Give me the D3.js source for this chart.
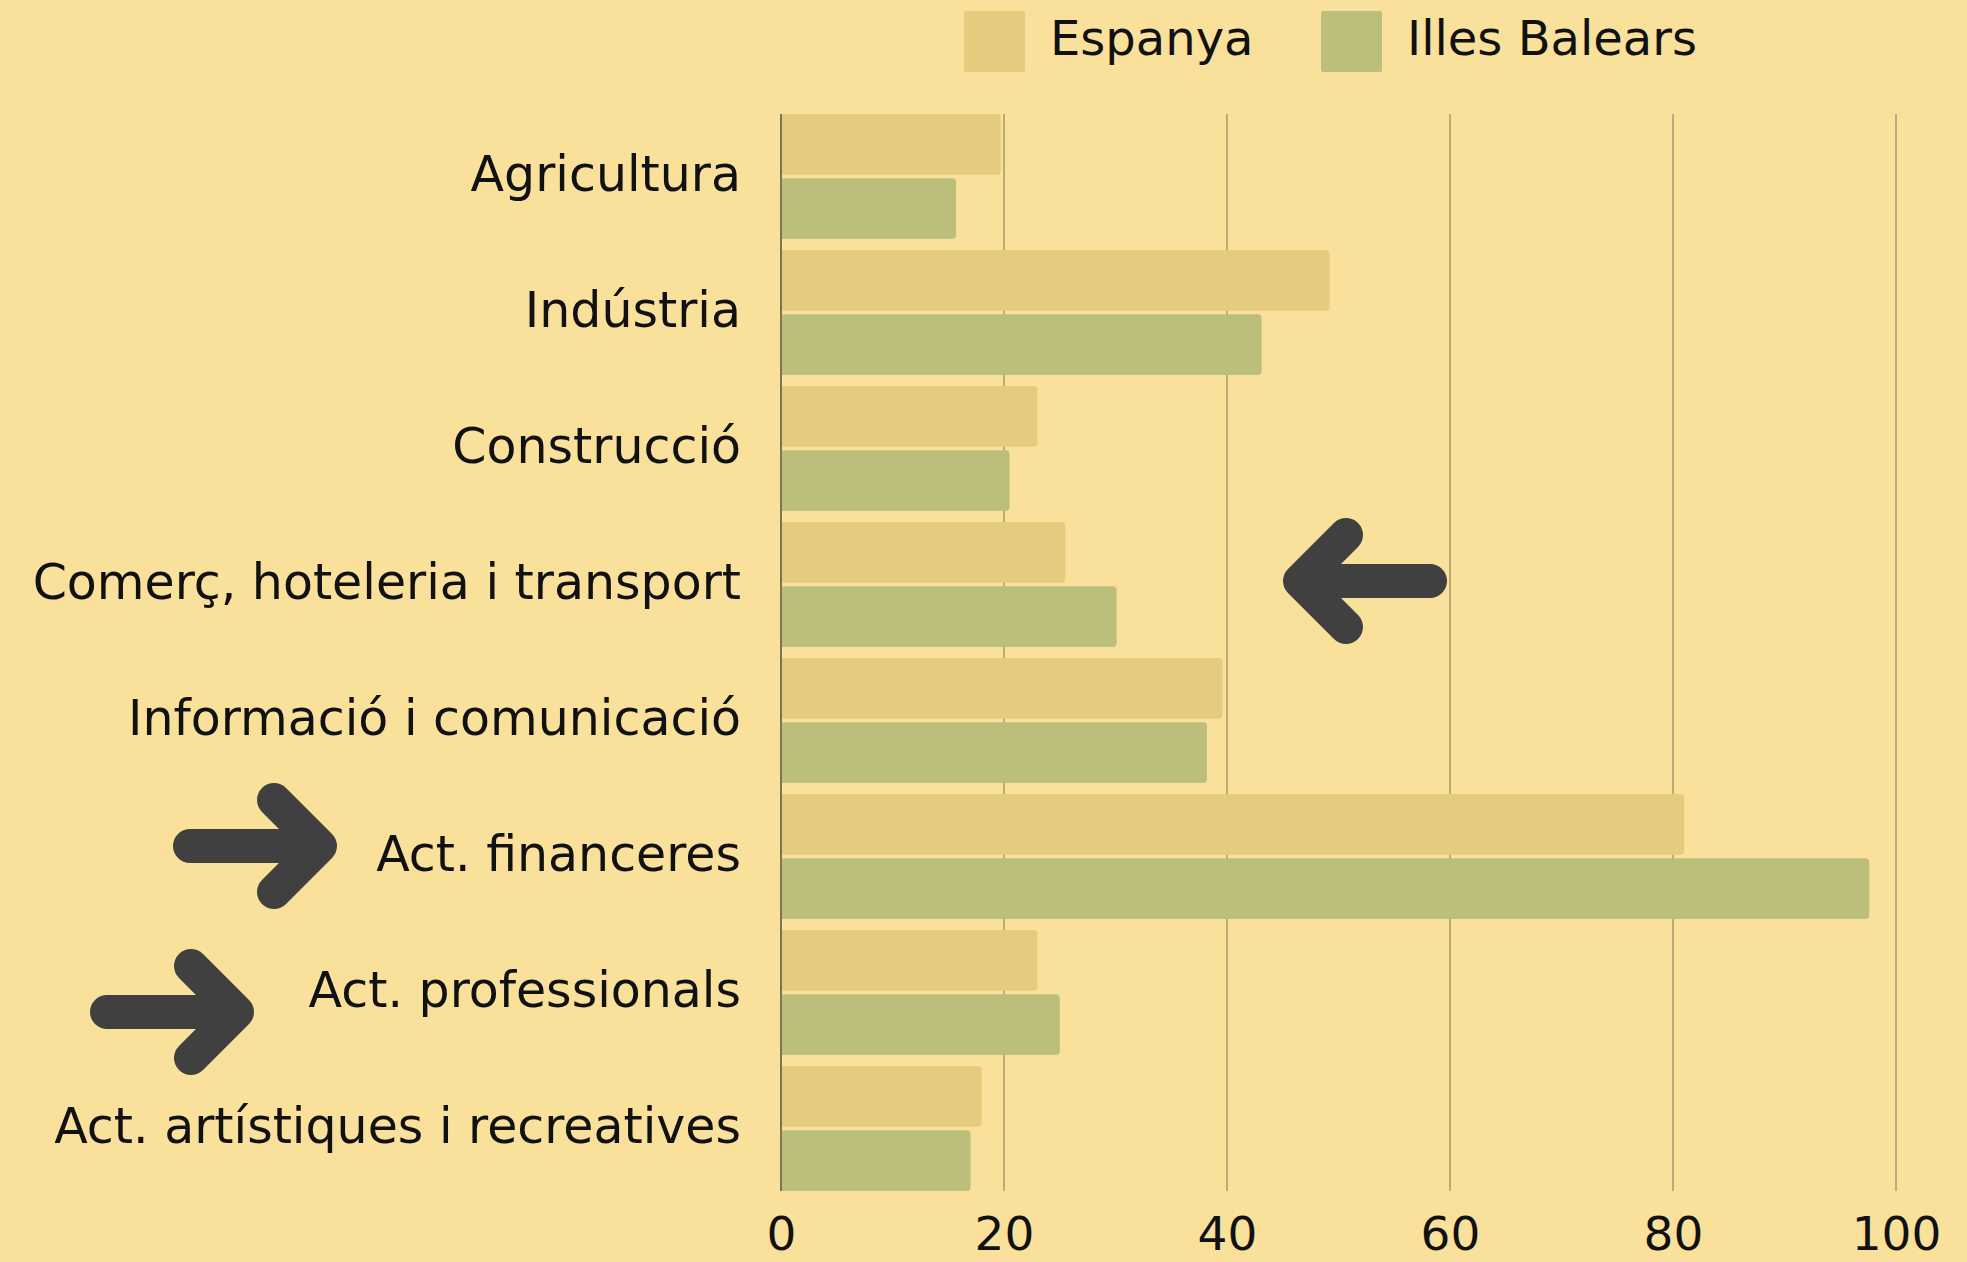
<!DOCTYPE html>
<html>
<head>
<meta charset="utf-8">
<script src="https://cdn.jsdelivr.net/npm/d3@7"></script>
<style>
body{margin:0;background:#f9e09b;}
svg{display:block;}
</style>
</head>
<body>
<script>
var categories=["Agricultura","Indústria","Construcció","Comerç, hoteleria i transport","Informació i comunicació","Act. financeres","Act. professionals","Act. artístiques i recreatives"];
var series=["Espanya","Illes Balears"];
var espanya=[19.7,49.2,23.0,25.5,39.6,81.0,23.0,18.0];
var balears=[15.7,43.1,20.5,30.1,38.2,97.6,25.0,17.0];
var xTicks=[0,20,40,60,80,100];

var width=1967;
var height=1262;
var colors={"Espanya":"#e4cb7e","Illes Balears":"#bcbe7b"};
var font="'DejaVu Sans', sans-serif";

var svg=d3.select("body")
    .append("svg")
    .attr("width",width)
    .attr("height",height);

svg.append("rect")
    .attr("width",width)
    .attr("height",height)
    .attr("fill","#f9e09b");

var plot={top:114, bottom:1191, left:781, right:1896};

var x=d3.scaleLinear().domain([0,100]).range([plot.left,plot.right]);
var y0=d3.scaleBand().domain(categories).range([plot.top,plot.bottom]).paddingInner(11/136).paddingOuter(0);
var y1=d3.scaleBand().domain(series).range([0,y0.bandwidth()]).paddingInner(0.056);

// gridlines
svg.append("g")
    .selectAll("line")
    .data(xTicks)
    .enter()
    .append("line")
    .attr("x1",function(d){return x(d);})
    .attr("x2",function(d){return x(d);})
    .attr("y1",plot.top)
    .attr("y2",plot.bottom)
    .attr("stroke",function(d){return d===0?"#7f7453":"#bcab7a";})
    .attr("stroke-width",2);

// barra amb cantonades dretes arrodonides
function barPath(x0,x1,yy,h,r){
    return "M"+x0+","+yy+
        "H"+(x1-r)+
        "Q"+x1+","+yy+" "+x1+","+(yy+r)+
        "V"+(yy+h-r)+
        "Q"+x1+","+(yy+h)+" "+(x1-r)+","+(yy+h)+
        "H"+x0+"Z";
}

var rows=categories.map(function(c,i){
    return {cat:c, values:[{s:"Espanya",v:espanya[i]},{s:"Illes Balears",v:balears[i]}]};
});

var groups=svg.append("g")
    .selectAll("g")
    .data(rows)
    .enter()
    .append("g")
    .attr("transform",function(d){return "translate(0,"+y0(d.cat)+")";});

groups.selectAll("path")
    .data(function(d){return d.values;})
    .enter()
    .append("path")
    .attr("fill",function(d){return colors[d.s];})
    .attr("d",function(d){
        return barPath(x(0)+1,x(d.v),y1(d.s),y1.bandwidth(),4);
    });

// eix Y (etiquetes)
var yAxis=svg.append("g")
    .attr("transform","translate("+plot.left+",0)")
    .call(d3.axisLeft(y0).tickSize(0).tickPadding(40));
yAxis.select(".domain").remove();
yAxis.selectAll("text")
    .attr("font-family",font)
    .attr("font-size","49px")
    .attr("fill","#111")
    .attr("dy","0.29em");

// eix X
var xAxis=svg.append("g")
    .attr("transform","translate(0,"+plot.bottom+")")
    .call(d3.axisBottom(x).tickValues(xTicks).tickSize(0));
xAxis.select(".domain").remove();
xAxis.selectAll("text")
    .attr("font-family",font)
    .attr("font-size","47px")
    .attr("fill","#111")
    .attr("y",59)
    .attr("dy",0);

// llegenda
var legendX=[964,1321];
var legend=svg.append("g")
    .selectAll("g")
    .data(series)
    .enter()
    .append("g")
    .attr("transform",function(d,i){return "translate("+legendX[i]+",11)";});
legend.append("rect")
    .attr("width",61)
    .attr("height",61)
    .attr("rx",2)
    .attr("fill",function(d){return colors[d];});
legend.append("text")
    .attr("x",86)
    .attr("y",44)
    .attr("font-family",font)
    .attr("font-size","48px")
    .attr("fill","#111")
    .text(function(d){return d;});

// fletxes
var arrows=[
    {cat:"Comerç, hoteleria i transport", tip:1300, tail:1430, dy:-3.5},
    {cat:"Act. financeres", tip:320, tail:190, dy:-10.5},
    {cat:"Act. professionals", tip:237, tail:107, dy:19.5}
];
var line=d3.line();
svg.append("g")
    .selectAll("path")
    .data(arrows)
    .enter()
    .append("path")
    .attr("fill","none")
    .attr("stroke","#404040")
    .attr("stroke-width",34)
    .attr("stroke-linecap","round")
    .attr("stroke-linejoin","round")
    .attr("d",function(d){
        var cy=y0(d.cat)+y0.bandwidth()/2+d.dy;
        var dir=d.tail>d.tip?1:-1;
        var back=d.tip+dir*46;
        return line([[d.tail,cy],[d.tip,cy]])+
            line([[back,cy-46],[d.tip,cy],[back,cy+46]]);
    });
</script>
</body>
</html>
